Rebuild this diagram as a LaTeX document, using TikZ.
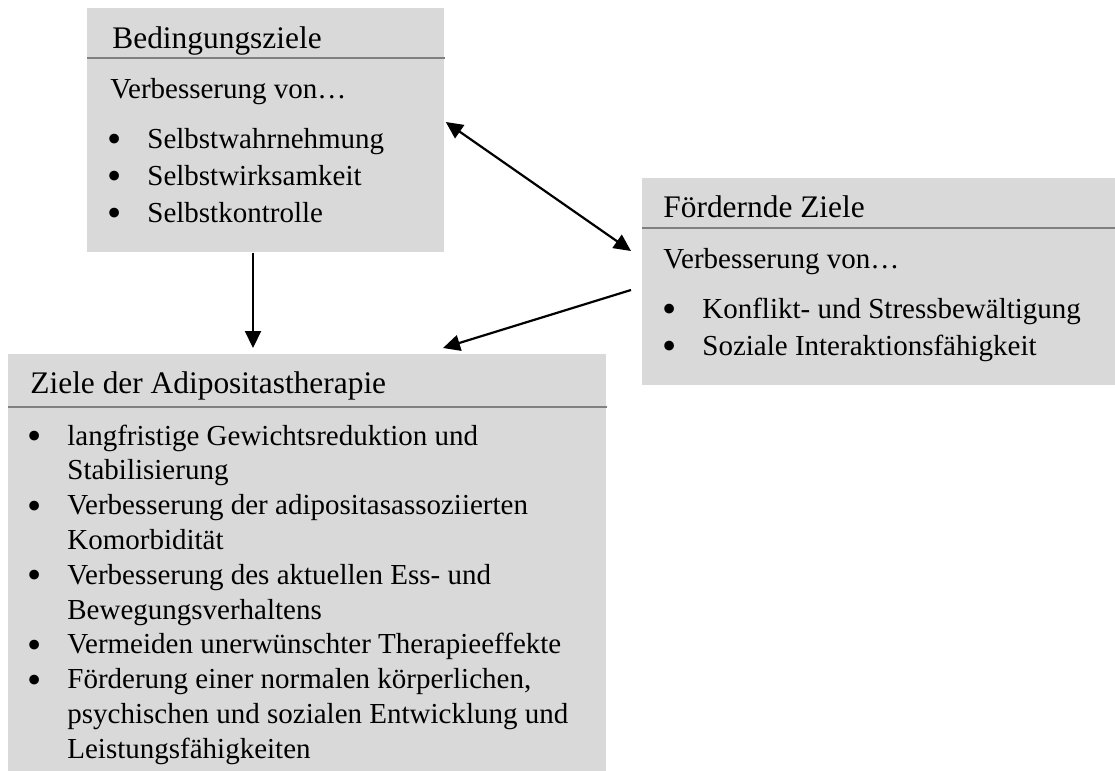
\documentclass[tikz,border=0pt]{standalone}
\usepackage{fontspec}
\setmainfont{Liberation Serif}
\usetikzlibrary{arrows.meta, calc}
\definecolor{boxgray}{HTML}{D9D9D9}
\definecolor{rulegray}{HTML}{808080}
\newcommand{\bul}{\makebox[19.5pt][l]{\hspace{-0.6pt}\raisebox{-2.2pt}{\scalebox{1.4}{\textbullet}}}}

\begin{document}
\begin{tikzpicture}[x=0.5pt, y=-0.5pt,
  zielbox/.style={rectangle, fill=boxgray, anchor=north west, inner sep=0},
  kopf/.style={anchor=base west, inner sep=0, font=\fontsize{15.7}{18}\selectfont},
  rumpf/.style={anchor=base west, inner sep=0, font=\fontsize{14.5}{18.5}\selectfont},
  rumpfeng/.style={anchor=base west, inner sep=0, font=\fontsize{14.5}{17.4}\selectfont},
  trenn/.style={draw=rulegray, line width=1.3pt},
  pfeil/.style={line width=1.1pt, >={Triangle[length=8.5pt, width=8pt]}}]
  \useasboundingbox (0,0) rectangle (1115,771);

  \node[zielbox, minimum width=178.5pt, minimum height=122pt] (bed) at (87,8) {};
  \node[zielbox, minimum width=236.5pt, minimum height=103.5pt] (foerd) at (642,178) {};
  \node[zielbox, minimum width=299pt, minimum height=208.5pt] (ziele) at (8,354) {};

  \draw[trenn] ($(bed.north west)+(0,50)$) -- ($(bed.north east)+(0,50)$);
  \draw[trenn] ($(foerd.north west)+(0,50)$) -- ($(foerd.north east)+(0,50)$);
  \draw[trenn] ($(ziele.north west)+(0,53)$) -- ($(ziele.north east)+(0,53)$);

  \node[kopf] (bedk) at ($(bed.north west)+(25,40)$) {Bedingungsziele};
  \node[rumpf] (bedv) at ($(bed.north west)+(23,90)$) {Verbesserung von…};
  \node[rumpf] (bedl) at ($(bed.north west)+(21,140)$) {%
    \begin{tabular}[t]{@{}l@{}l@{}}
      \bul & Selbstwahrnehmung\\
      \bul & Selbstwirksamkeit\\
      \bul & Selbstkontrolle
    \end{tabular}};

  \node[kopf] (foerdk) at ($(foerd.north west)+(21,39)$) {Fördernde Ziele};
  \node[rumpf] (foerdv) at ($(foerd.north west)+(21,90)$) {Verbesserung von…};
  \node[rumpf] (foerdl) at ($(foerd.north west)+(21,140)$) {%
    \begin{tabular}[t]{@{}l@{}l@{}}
      \bul & Konflikt- und Stressbewältigung\\
      \bul & Soziale Interaktionsfähigkeit
    \end{tabular}};

  \node[kopf] (zielek) at ($(ziele.north west)+(22,39)$) {Ziele der Adipositastherapie};
  \node[rumpfeng] (zielel) at ($(ziele.north west)+(20,91)$) {%
    \begin{tabular}[t]{@{}l@{}l@{}}
      \bul & langfristige Gewichtsreduktion und\\
           & Stabilisierung\\
      \bul & Verbesserung der adipositasassoziierten\\
           & Komorbidität\\
      \bul & Verbesserung des aktuellen Ess- und\\
           & Bewegungsverhaltens\\
      \bul & Vermeiden unerwünschter Therapieeffekte\\
      \bul & Förderung einer normalen körperlichen,\\
           & psychischen und sozialen Entwicklung und\\
           & Leistungsfähigkeiten
    \end{tabular}};

  \coordinate (p1) at ($(bed.north east)+(1,114)$);
  \coordinate (p2) at ($(foerd.north west)+(-11,73)$);
  \coordinate (p3) at ($(foerd.north west)+(-11,112)$);
  \coordinate (p4) at ($(ziele.north west)+(435,-6)$);
  \coordinate (p5) at ($(bed.south west)+(166,0)$);
  \coordinate (p6) at ($(ziele.north west)+(245,-6)$);

  \draw[pfeil, <->] (p1) -- (p2);
  \draw[pfeil, ->] (p3) -- (p4);
  \draw[pfeil, ->] (p5) -- (p6);
\end{tikzpicture}
\end{document}
